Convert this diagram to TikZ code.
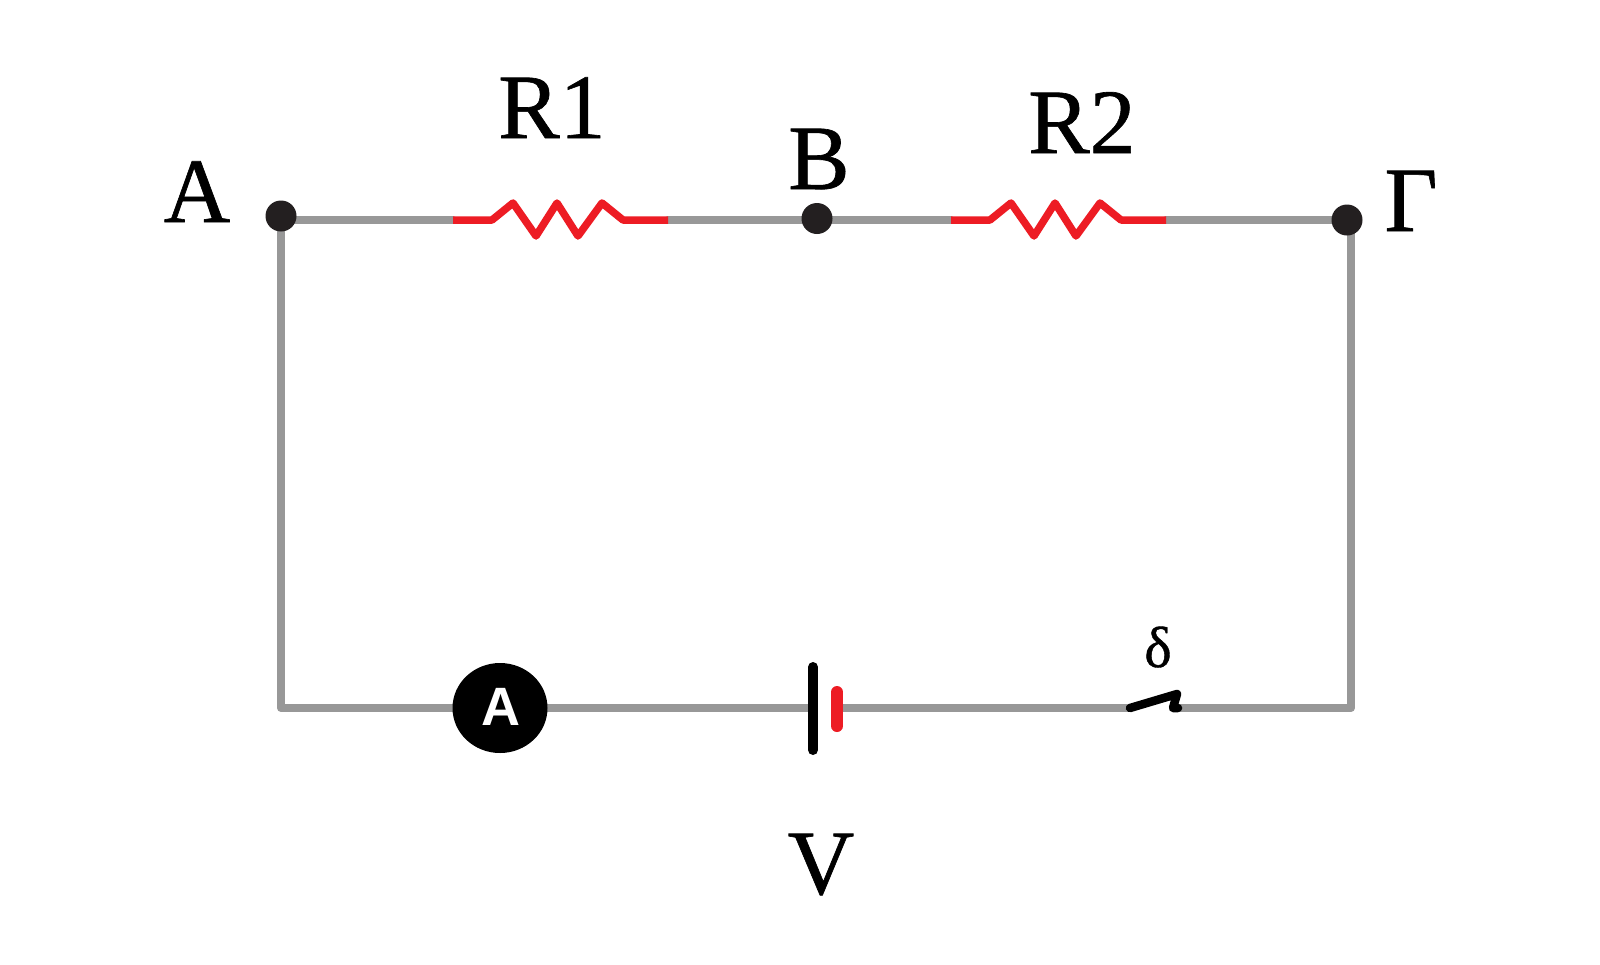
\documentclass[tikz,border=0pt]{standalone}
\usepackage{fontspec}
\setmainfont[FakeBold=0.7]{Liberation Serif}
\newfontfamily\lblsans{Liberation Sans}
\usetikzlibrary{shapes.geometric}
\definecolor{wiregray}{HTML}{989898}
\definecolor{resred}{HTML}{ED1C24}
\definecolor{dotblack}{HTML}{231F20}
\tikzset{
  wire/.style={draw=wiregray,line width=8pt,line join=round,line cap=round},
  redline/.style={draw=resred,line width=7.5pt,line join=round},
  dotnode/.style={circle,fill=dotblack,draw=none,minimum size=31pt,inner sep=0pt},
  biglabel/.style={inner sep=0pt,anchor=base,font=\fontsize{92}{92}\selectfont},
  smalllabel/.style={inner sep=0pt,anchor=base,font=\fontsize{58}{58}\selectfont},
  meter/.style={ellipse,fill=black,draw=none,minimum width=95pt,minimum height=90pt,inner sep=0pt},
  plate/.style={line width=12pt,line cap=round},
  switcharm/.style={draw=black,line width=8.5pt,line cap=round,line join=round}
}
\begin{document}
\begin{tikzpicture}[x=1pt,y=-1pt]
\useasboundingbox (0,0) rectangle (1600,964);
\fill[white] (0,0) rectangle (1600,964);
% named points
\coordinate (cbl) at (281,708);
\coordinate (cbr) at (1351,708);
\coordinate (ctl) at (281,220);
\coordinate (ctr) at (1351,220);
\coordinate (r1a) at (453,220);
\coordinate (r1b) at (668,220);
\coordinate (r2a) at (951,220);
\coordinate (r2b) at (1166,220);
\coordinate (batneg) at (813,708);
\coordinate (batpos) at (837,708);
\coordinate (swa) at (1130,708);
\coordinate (swb) at (1178,708);
% wires
\draw[wire] (swa) -- (batpos);
\draw[wire] (batneg) -- (cbl) -- (ctl) -- (r1a);
\draw[wire] (r1b) -- (r2a);
\draw[wire] (r2b) -- (ctr) -- (cbr) -- (swb);
% resistors
\draw[redline] (r1a) -- (492,220) -- (513,203) -- (536,236) -- (557,203) -- (578,236) -- (602,203) -- (623,220) -- (r1b);
\draw[redline] (r2a) -- (990,220) -- (1011,203) -- (1034,236) -- (1055,203) -- (1076,236) -- (1100,203) -- (1121,220) -- (r2b);
% junction dots
\node[dotnode] (ndA) at (281,216) {};
\node[dotnode] (ndB) at (817,218.5) {};
\node[dotnode] (ndG) at (1347,220) {};
% ammeter
\node[meter] (amm) at (500,708) {};
\node[inner sep=0pt,anchor=base,text=white,font=\lblsans\bfseries\fontsize{54}{54}\selectfont] (ammA) at (500.5,725) {A};
% battery
\draw[plate,black,line width=10pt] (813,667) -- (813,750);
\draw[plate,resred] (837,692) -- (837,726);
% switch
\draw[switcharm] (swa) -- (1177,694) -- (1173,708) -- (swb);
% labels
\node[biglabel] (lA) at (197,222) {A};
\node[biglabel] (lR1) at (552,138) {R1};
\node[biglabel] (lB) at (819,189) {B};
\node[biglabel] (lR2) at (1082,153) {R2};
\node[biglabel] (lG) at (1411,231) {Γ};
\node[biglabel] (lV) at (821,894) {V};
\node[smalllabel] (ld) at (1158,667) {δ};
\end{tikzpicture}
\end{document}
